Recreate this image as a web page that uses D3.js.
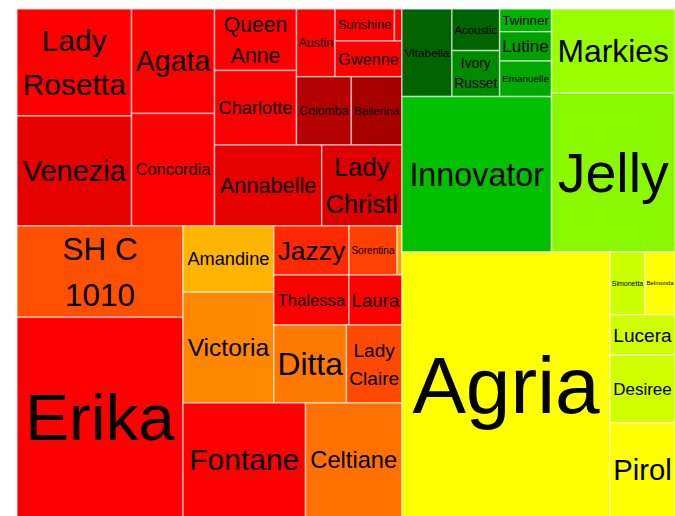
<!DOCTYPE html>
<html>
<head>
<meta charset="utf-8">
<script src="https://cdn.jsdelivr.net/npm/d3@7"></script>
<style>
  body { margin: 0; background: #fff; }
  svg { display: block; }
  text { font-family: "Liberation Sans", Arial, sans-serif; }
</style>
</head>
<body>
<svg id="chart" width="675" height="516"></svg>
<script>
// tree structure: each node and its parent (groups have no label)
var nodes = [
    "All", "west", "east",
    "red", "red-1", "Lady Rosetta", "Venezia", "red-2", "Agata", "Concordia",
    "red-3", "red-3a", "red-3a1", "Queen Anne", "Charlotte",
    "red-3a2", "red-3a2t", "Austin", "red-sg", "red-sun", "Sunshine", "other-1", "Gwenne",
    "red-3a2b", "Colomba", "Ballerina", "red-3b", "Annabelle", "Lady Christl",
    "orange", "or-1", "SH C 1010", "Erika", "or-2", "or-2a", "or-2a1", "Amandine", "Victoria",
    "or-2a2", "or-2a2t", "or-jt", "Jazzy", "Thalessa", "or-sl", "or-sor", "Sorentina", "other-2", "Laura",
    "or-dc", "Ditta", "Lady Claire", "or-fc", "Fontane", "Celtiane",
    "green", "gr-1", "gr-1a", "Vitabella", "gr-ai", "Acoustic", "Ivory Russet",
    "gr-tle", "Twinner", "Lutine", "Emanuelle", "Innovator", "gr-2", "Markies", "Jelly",
    "yellow", "Agria", "ye-2", "ye-sb", "Simonetta", "Belmonda", "Lucera", "Desiree", "Pirol"
];
var parents = [
    "", "All", "All",
    "west", "red", "red-1", "red-1", "red", "red-2", "red-2",
    "red", "red-3", "red-3a", "red-3a1", "red-3a1",
    "red-3a", "red-3a2", "red-3a2t", "red-3a2t", "red-sg", "red-sun", "red-sun", "red-sg",
    "red-3a2", "red-3a2b", "red-3a2b", "red-3", "red-3b", "red-3b",
    "west", "orange", "or-1", "or-1", "orange", "or-2", "or-2a", "or-2a1", "or-2a1",
    "or-2a", "or-2a2", "or-2a2t", "or-jt", "or-jt", "or-2a2t", "or-sl", "or-sor", "or-sor", "or-sl",
    "or-2a2", "or-dc", "or-dc", "or-2", "or-fc", "or-fc",
    "east", "green", "gr-1", "gr-1a", "gr-1a", "gr-ai", "gr-ai",
    "gr-1a", "gr-tle", "gr-tle", "gr-tle", "gr-1", "green", "gr-2", "gr-2",
    "east", "yellow", "yellow", "ye-2", "ye-sb", "ye-sb", "ye-2", "ye-2", "ye-2"
];

// leaves: size and colour value
var varieties = [
    "Lady Rosetta", "Venezia", "Agata", "Concordia", "Queen Anne", "Charlotte", "Austin",
    "Sunshine", "other-1", "Gwenne", "Colomba", "Ballerina", "Annabelle", "Lady Christl",
    "SH C 1010", "Erika", "Amandine", "Victoria", "Jazzy", "Thalessa", "Sorentina",
    "other-2", "Laura", "Ditta", "Lady Claire", "Fontane", "Celtiane",
    "Vitabella", "Acoustic", "Ivory Russet", "Twinner", "Lutine", "Emanuelle", "Innovator",
    "Markies", "Jelly", "Agria", "Simonetta", "Belmonda", "Lucera", "Desiree", "Pirol"
];
var tonnes = [
    122.5, 126.0, 86.7, 93.4, 50.4, 61.1, 26.1,
    19.0, 2.4, 23.9, 37.4, 34.6, 86.8, 65.0,
    151.6, 331.5, 60.1, 100.6, 36.8, 37.5, 23.6,
    2.4, 26.5, 56.6, 43.3, 139.7, 110.0,
    43.8, 19.8, 21.9, 11.8, 15.2, 18.4, 232.5,
    103.7, 196.4, 551.2, 21.9, 18.8, 26.2, 44.0, 61.3
];
var trend = [
    2, 2.26, 2, 2, 2, 2.05, 2,
    2, 2, 2, 2.79, 2.92, 2.26, 2.37,
    1.375, 2, 0.59, 0.94, 1.69, 2, 1.5,
    0.75, 2, 1.06, 1.44, 2, 1.12,
    -3, -3, -2.59, -2.13, -2.35, -2.26, -2,
    -1, -1.1, 0, -0.5, 0, -0.45, -0.45, 0
];

var colorStops = [-3, -2, -1, 0, 1, 2, 3];
var colorRange = ["#006400", "#00c000", "#99ff00", "#ffff00", "#ff8000", "#ff0000", "#a00000"];

var marginLeft = 17, marginTop = 9, width = 658, height = 508;

var sizeOf = new Map(varieties.map(function(v, i) { return [v, tonnes[i]]; }));
var trendOf = new Map(varieties.map(function(v, i) { return [v, trend[i]]; }));
var color = d3.scaleLinear().domain(colorStops).range(colorRange);

var table = nodes.map(function(n, i) { return {name: n, parent: parents[i]}; });
var root = d3.stratify()
    .id(function(d) { return d.name; })
    .parentId(function(d) { return d.parent || null; })(table);
root.sum(function(d) { return sizeOf.get(d.name) || 0; });

// split wide boxes side by side, tall boxes on top of each other
var tile = function(node, x0, y0, x1, y1) {
    if (x1 - x0 > y1 - y0) d3.treemapDice(node, x0, y0, x1, y1);
    else d3.treemapSlice(node, x0, y0, x1, y1);
};
d3.treemap().tile(tile).size([width, height])(root);

var svg = d3.select("#chart");
var g = svg.append("g").attr("transform", "translate(" + marginLeft + "," + marginTop + ")");

var cell = g.selectAll("g.cell")
    .data(root.leaves())
    .enter().append("g")
    .attr("class", "cell");

cell.append("rect")
    .attr("x", function(d) { return d.x0; })
    .attr("y", function(d) { return d.y0; })
    .attr("width", function(d) { return d.x1 - d.x0; })
    .attr("height", function(d) { return d.y1 - d.y0; })
    .attr("fill", function(d) { return color(trendOf.get(d.id)); })
    .attr("stroke", "#fff")
    .attr("stroke-opacity", 0.55)
    .attr("stroke-width", 1.5);

// measure text in em units
var ctx = document.createElement("canvas").getContext("2d");
ctx.font = "100px 'Liberation Sans', Arial, sans-serif";
var em = function(s) { return ctx.measureText(s).width / 100; };

var lineHeight = 1.45;
var fitLabel = function(text, w, h) {
    var words = text.split(" ");
    var options = [[text]];
    for (var k = 1; k < words.length; k++) {
        options.push([words.slice(0, k).join(" "), words.slice(k).join(" ")]);
    }
    var best = {size: -1, widest: Infinity};
    options.forEach(function(lines) {
        var widest = d3.max(lines, em);
        var size = Math.min(0.9 * w / widest, h / (lines.length * lineHeight));
        if (size > best.size + 0.05 || (Math.abs(size - best.size) <= 0.05 && widest < best.widest)) {
            best = {size: size, lines: lines, widest: widest};
        }
    });
    return best;
};

cell.each(function(d) {
    if (d.id.indexOf("other") === 0) return;
    var w = d.x1 - d.x0, h = d.y1 - d.y0;
    var fit = fitLabel(d.id, w, h);
    if (fit.size < 4) return;
    var cx = (d.x0 + d.x1) / 2, cy = (d.y0 + d.y1) / 2;
    var n = fit.lines.length;
    d3.select(this).selectAll("text")
        .data(fit.lines)
        .enter().append("text")
        .attr("x", cx)
        .attr("y", function(line, i) {
            return cy + (i - (n - 1) / 2) * lineHeight * fit.size + 0.35 * fit.size;
        })
        .attr("text-anchor", "middle")
        .attr("font-size", fit.size.toFixed(1) + "px")
        .attr("fill", "#000")
        .text(function(line) { return line; });
});
</script>
</body>
</html>
